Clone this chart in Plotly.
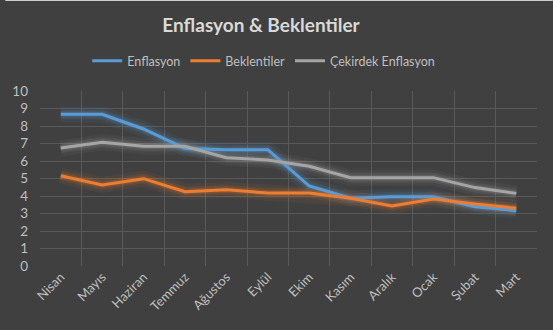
import plotly.graph_objects as go

months = ["Nisan", "Mayıs", "Haziran", "Temmuz", "Ağustos", "Eylül",
          "Ekim", "Kasım", "Aralık", "Ocak", "Şubat", "Mart"]
enflasyon = [8.67, 8.67, 7.83, 6.72, 6.65, 6.65, 4.57, 3.87, 3.96, 3.96, 3.39, 3.16]
beklentiler = [5.16, 4.63, 4.99, 4.25, 4.36, 4.17, 4.17, 3.87, 3.43, 3.83, 3.54, 3.30]
cekirdek = [6.74, 7.07, 6.84, 6.84, 6.19, 6.06, 5.70, 5.05, 5.05, 5.05, 4.48, 4.15]

series = [
    ("Enflasyon", enflasyon, "#5b9bd5", "91,155,213"),
    ("Beklentiler", beklentiler, "#ed7d31", "237,125,49"),
    ("Çekirdek Enflasyon", cekirdek, "#a5a5a5", "165,165,165"),
]

BG = "#404040"
TXT = "#bfbfbf"
FONT = "Lato, 'Open Sans', sans-serif"

fig = go.Figure()

# soft glow under each line
for name, vals, col, rgb in series:
    for w, a in [(16, 0.07), (10, 0.12), (6, 0.18)]:
        fig.add_trace(go.Scatter(
            x=months, y=vals, mode="lines",
            line=dict(color=f"rgba({rgb},{a})", width=w),
            showlegend=False, hoverinfo="skip",
        ))

for name, vals, col, rgb in series:
    fig.add_trace(go.Scatter(
        x=months, y=vals, mode="lines", name=name,
        line=dict(color=col, width=3),
    ))

fig.update_layout(
    width=553, height=330,
    paper_bgcolor=BG, plot_bgcolor=BG,
    margin=dict(l=35, r=16, t=91, b=64),
    font=dict(family=FONT, color=TXT, size=12),
    title=dict(
        text="<b>Enflasyon & Beklentiler</b>",
        x=0.472, xanchor="center", xref="container",
        y=1 - 25 / 330, yanchor="middle", yref="container",
        font=dict(size=19, color="#d9d9d9", family=FONT),
    ),
    legend=dict(
        orientation="h", x=0.095, xanchor="left",
        y=1 + (266 - 61) / 175 - 1, yanchor="middle",
        bgcolor="rgba(0,0,0,0)",
        font=dict(size=12.5, color=TXT, family=FONT),
        itemwidth=30, tracegroupgap=0,
    ),
    xaxis=dict(
        type="category", range=[-0.5, 11.5],
        tickson="boundaries", showgrid=True, gridcolor="#595959", gridwidth=1,
        showline=False, zeroline=False, ticks="",
        tickangle=-45, tickfont=dict(size=13, color=TXT),
        fixedrange=True,
    ),
    yaxis=dict(
        range=[0, 10], dtick=1, showgrid=True, gridcolor="#595959", gridwidth=1,
        zeroline=False, showline=False, ticks="",
        ticklabelstandoff=11,
        tickfont=dict(size=13.5, color=TXT),
        fixedrange=True,
    ),
    shapes=[dict(
        type="line", xref="paper", yref="paper",
        x0=-35 / 502, x1=1 + 16 / 502,
        y0=(175 + 91 - 0.5) / 175, y1=(175 + 91 - 0.5) / 175,
        line=dict(color="#cfcfcf", width=1),
    )],
)

fig.write_html("out.html")
